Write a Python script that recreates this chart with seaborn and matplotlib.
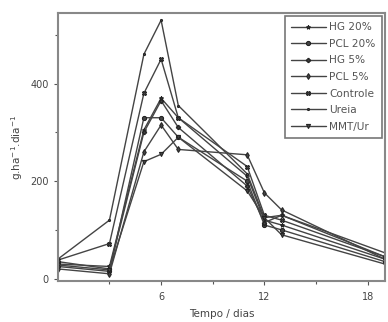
import matplotlib
matplotlib.use("Agg")
import matplotlib.pyplot as plt
import seaborn as sns
import pandas as pd

dias = [0, 3, 5, 6, 7, 11, 12, 13, 19]
series_names = ["HG 20%", "PCL 20%", "HG 5%", "PCL 5%", "Controle", "Ureia", "MMT/Ur"]
hg20 = [30, 25, 305, 370, 330, 210, 120, 110, 40]
pcl20 = [25, 15, 330, 330, 290, 200, 110, 100, 35]
hg5 = [35, 20, 300, 365, 310, 190, 115, 130, 45]
pcl5 = [20, 10, 260, 315, 265, 254, 176, 141, 40]
controle = [38, 72, 380, 450, 330, 230, 130, 120, 45]
ureia = [40, 120, 460, 530, 355, 215, 125, 130, 53]
mmtur = [28, 18, 240, 255, 290, 180, 125, 90, 30]
values = [hg20, pcl20, hg5, pcl5, controle, ureia, mmtur]
xtick_vals = [6, 12, 18]
xtick_labels = ["6", "12", "18"]
xminor_vals = [3, 9, 15]
ytick_vals = [0, 200, 400]
ytick_labels = ["0", "200", "400"]
yminor_vals = [100, 300, 500]

rows = []
for name, vals in zip(series_names, values):
    for d, v in zip(dias, vals):
        rows.append({"dia": float(d), "valor": float(v), "serie": name})
df = pd.DataFrame(rows)

sns.set_style("ticks")
plt.rcParams['font.family'] = ['DejaVu Sans']

fig = plt.figure(figsize=(3.88, 3.22), dpi=100)
ax = fig.add_axes([0.149, 0.127, 0.843, 0.833])

markers = {"HG 20%": "*", "PCL 20%": "o", "HG 5%": "P", "PCL 5%": "d",
           "Controle": "X", "Ureia": ".", "MMT/Ur": "v"}
palette = {n: "#444444" for n in series_names}
sns.lineplot(data=df, x="dia", y="valor", hue="serie", style="serie",
             markers=markers, dashes=False, palette=palette, ax=ax,
             linewidth=1.0, markersize=3.0, markeredgecolor="#222",
             hue_order=series_names, style_order=series_names)

ax.set_xlim(0, 19)
ax.set_ylim(-5, 545)
ax.set_xticks(xtick_vals, labels=xtick_labels)
ax.set_xticks(xminor_vals, minor=True)
ax.set_yticks(ytick_vals, labels=ytick_labels)
ax.set_yticks(yminor_vals, minor=True)
ax.tick_params(which="major", length=3, width=0.8, color="#555", labelsize=7,
               labelcolor="#444")
ax.tick_params(axis="x", which="major", pad=5)
ax.tick_params(which="minor", length=2, width=0.8, color="#555")
for s in ax.spines.values():
    s.set_color("#888")
    s.set_linewidth(1.5)
ax.set_xlabel("Tempo / dias", fontsize=7.5, color="#444", labelpad=5)
ax.set_ylabel("g.ha$^{-1}$.dia$^{-1}$", fontsize=7.5, color="#444")

leg = ax.legend(loc="upper right", fontsize=7.6, frameon=True, fancybox=False,
                edgecolor="#777", framealpha=1, handlelength=3.3, labelspacing=0.62,
                borderpad=0.6, handletextpad=0.3, borderaxespad=0.3)
for t in leg.get_texts():
    t.set_color("#555")
leg.get_frame().set_linewidth(1.2)

fig.canvas.draw()
fig.savefig("out.png", dpi=100)
